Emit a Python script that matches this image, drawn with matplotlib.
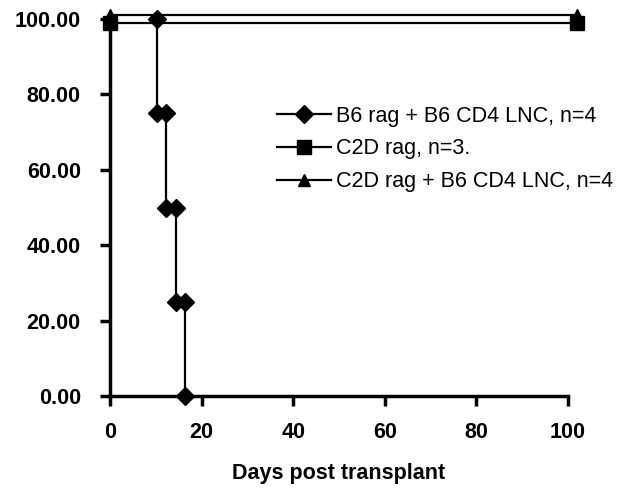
import numpy as np
import matplotlib.pyplot as plt

plt.rcParams['font.family'] = ['Liberation Sans', 'DejaVu Sans']

# survival data (days, percent)
b6_days = [10.2, 10.2, 12.2, 12.2, 14.3, 14.3, 16.4, 16.4]
b6_surv = [100, 75, 75, 50, 50, 25, 25, 0]
c2d_days = [0, 102]
c2d_surv = [99, 99]
c2d_lnc_days = [0, 102]
c2d_lnc_surv = [101, 101]

labels = ["B6 rag + B6 CD4 LNC, n=4", "C2D rag, n=3.", "C2D rag + B6 CD4 LNC, n=4"]
x_ticks = [0, 20, 40, 60, 80, 100]
y_ticks = [0, 20, 40, 60, 80, 100]

fig = plt.figure(figsize=(6.24, 4.88), dpi=100)
ax = fig.add_axes([0.1763, 0.1885, 0.734, 0.7725])

ax.plot(b6_days, b6_surv, color='black', marker='D', markersize=9,
        linewidth=1.6, label=labels[0], clip_on=False, zorder=3)
ax.plot(c2d_days, c2d_surv, color='black', marker='s', markersize=10.5,
        linewidth=1.6, label=labels[1], clip_on=False, zorder=3)
ax.plot(c2d_lnc_days, c2d_lnc_surv, color='black', marker='^', markersize=9,
        linewidth=1.6, label=labels[2], clip_on=False, zorder=3)

ax.set_xlim(0, 100)
ax.set_ylim(0, 100)
ax.set_xticks(x_ticks)
ax.set_xticklabels([str(t) for t in x_ticks])
ax.set_yticks(y_ticks)
ax.set_yticklabels(["%.2f" % t for t in y_ticks])

for side in ['top', 'right']:
    ax.spines[side].set_visible(False)
for side in ['left', 'bottom']:
    ax.spines[side].set_linewidth(2.5)

ax.tick_params(axis='both', direction='out', length=7, width=2.5,
               labelsize=15.5)
ax.tick_params(axis='x', pad=12)
ax.tick_params(axis='y', pad=14)
for lab in ax.get_xticklabels() + ax.get_yticklabels():
    lab.set_fontweight('bold')

ax.set_xlabel("Days post transplant", fontsize=15.5, fontweight='bold', labelpad=14)

ax.legend(loc='center left', bbox_to_anchor=(277 / 624, 1 - 149 / 488),
          bbox_transform=fig.transFigure, frameon=False, fontsize=15.5,
          handlelength=2.5, handletextpad=0.25, labelspacing=0.55,
          borderpad=0, borderaxespad=0)

fig.savefig("out.png", dpi=100)
